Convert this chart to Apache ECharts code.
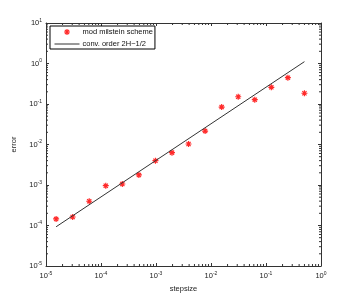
<!DOCTYPE html>
<html><head><meta charset="utf-8">
<script src="https://cdn.jsdelivr.net/npm/echarts@6/dist/echarts.min.js"></script>
<style>html,body{margin:0;padding:0;background:#fff}#c{width:354px;height:300px}</style>
</head><body><div id="c"></div>
<script>
var stepsizes = [1.526e-5, 3.052e-5, 6.104e-5, 1.221e-4, 2.441e-4, 4.883e-4, 9.766e-4, 1.953e-3, 3.906e-3, 7.813e-3, 0.01563, 0.03125, 0.0625, 0.125, 0.25, 0.5];
var errors = [1.45e-4, 1.62e-4, 3.97e-4, 9.6e-4, 1.06e-3, 1.77e-3, 3.98e-3, 6.3e-3, 1.03e-2, 2.15e-2, 8.4e-2, 0.151, 0.128, 0.258, 0.447, 0.184];
var refX = [1.526e-5, 0.5];
var refY = [9.3e-5, 1.11];
var seriesNames = ['mod milstein scheme', 'conv. order 2H\u22121/2'];

var xMin = 1e-5, xMax = 1, yMin = 1e-5, yMax = 10;
function minorVals(e0, e1) {
  var out = [];
  for (var e = e0; e < e1; e++) for (var m = 2; m <= 9; m++) out.push(m * Math.pow(10, e));
  return out;
}
var xMinor = minorVals(-5, 0), yMinor = minorVals(-5, 1);
var axColor = '#333';
function expLabel(v) {
  var e = Math.round(Math.log10(v));
  return '{b|10}{s|' + e + '}';
}
var rich = {
  b: {fontFamily: 'Liberation Sans', fontSize: 7.5, color: '#222'},
  s: {fontFamily: 'Liberation Sans', fontSize: 5, color: '#222', verticalAlign: 'top', padding: [0, 0, 5, 0]}
};
var star = 'path://M0,-10 L0,10 M-10,0 L10,0 M-7,-7 L7,7 M-7,7 L7,-7';
var markStyle = {color: 'transparent', borderColor: '#ff2a2a', borderWidth: 1.2, opacity: 1};

var chart = echarts.init(document.getElementById('c'), null, {renderer: 'canvas'});
function baseX(pos, show) {
  return {type: 'log', logBase: 10, min: xMin, max: xMax, position: pos,
    axisLine: {show: true, lineStyle: {color: axColor, width: 1}},
    axisTick: {show: true, inside: true, length: 3, lineStyle: {color: axColor}},
    axisLabel: {show: show, formatter: expLabel, rich: rich, margin: 5},
    splitLine: {show: false}, minorTick: {show: false}};
}
function baseY(pos, show) {
  return {type: 'log', logBase: 10, min: yMin, max: yMax, position: pos,
    axisLine: {show: true, lineStyle: {color: axColor, width: 1}},
    axisTick: {show: true, inside: true, length: 3, lineStyle: {color: axColor}},
    axisLabel: {show: show, formatter: expLabel, rich: rich, margin: 4},
    splitLine: {show: false}, minorTick: {show: false}};
}
var xa0 = baseX('bottom', true);
xa0.name = 'stepsize'; xa0.nameLocation = 'middle'; xa0.nameGap = 17;
xa0.nameTextStyle = {fontFamily: 'Liberation Sans', fontSize: 7.5, color: '#222'};
var ya0 = baseY('left', true);
ya0.name = 'error'; ya0.nameLocation = 'middle'; ya0.nameGap = 14;
ya0.nameTextStyle = {fontFamily: 'Liberation Sans', fontSize: 7.5, color: '#222'};

function minorXItem(params, api) {
  var x = api.value(0);
  var pb = api.coord([x, yMin]), pt = api.coord([x, yMax]);
  var st = {stroke: axColor, lineWidth: 1};
  return {type: 'group', children: [
    {type: 'line', shape: {x1: pb[0], y1: pb[1], x2: pb[0], y2: pb[1] - 2}, style: st},
    {type: 'line', shape: {x1: pt[0], y1: pt[1], x2: pt[0], y2: pt[1] + 2}, style: st}
  ]};
}
function minorYItem(params, api) {
  var y = api.value(1);
  var pl = api.coord([xMin, y]), pr = api.coord([xMax, y]);
  var st = {stroke: axColor, lineWidth: 1};
  return {type: 'group', children: [
    {type: 'line', shape: {x1: pl[0], y1: pl[1], x2: pl[0] + 2, y2: pl[1]}, style: st},
    {type: 'line', shape: {x1: pr[0], y1: pr[1], x2: pr[0] - 2, y2: pr[1]}, style: st}
  ]};
}

chart.setOption({
  backgroundColor: '#fff',
  animation: false,
  grid: {left: 46, right: 33, top: 23, bottom: 34, containLabel: false},
  xAxis: [xa0, baseX('top', false)],
  yAxis: [ya0, baseY('right', false)],
  legend: {
    data: [
      {name: seriesNames[0], icon: star, itemStyle: markStyle},
      {name: seriesNames[1], itemStyle: {color: 'transparent', borderColor: 'transparent', borderWidth: 0, opacity: 0},
        lineStyle: {color: '#333', width: 1, opacity: 1}}
    ],
    orient: 'vertical', left: 50, top: 26,
    itemWidth: 25, itemHeight: 6, itemGap: 4,
    borderColor: '#000', borderWidth: 1, borderRadius: 0,
    padding: [2, 2, 1, 4],
    textStyle: {fontFamily: 'Liberation Sans', fontSize: 7.5, color: '#111', padding: [0, 0, 0, -2]},
    selectedMode: false
  },
  series: [
    {name: seriesNames[0], type: 'scatter', data: stepsizes.map(function (x, i) { return [x, errors[i]]; }),
      symbol: star, symbolSize: 6, itemStyle: markStyle},
    {name: seriesNames[1], type: 'line', data: refX.map(function (x, i) { return [x, refY[i]]; }),
      symbol: 'none', lineStyle: {color: '#333', width: 1}, itemStyle: {color: '#333'}},
    {type: 'custom', silent: true, clip: false, renderItem: minorXItem,
      data: xMinor.map(function (v) { return [v, yMin]; })},
    {type: 'custom', silent: true, clip: false, renderItem: minorYItem,
      data: yMinor.map(function (v) { return [xMin, v]; })}
  ]
});
</script></body></html>
